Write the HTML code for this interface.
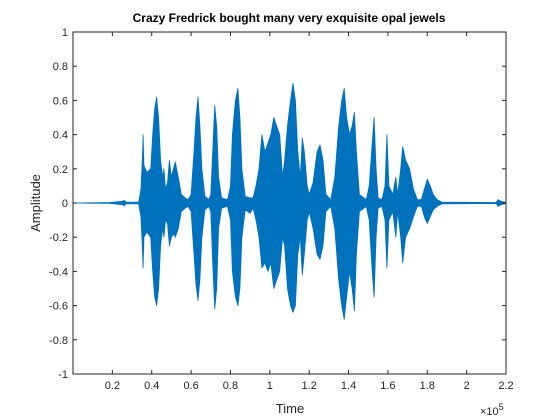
<!DOCTYPE html>
<html><head><meta charset="utf-8"><style>
body{margin:0;background:#fff;}
svg{display:block;font-family:"Liberation Sans",sans-serif;}
</style></head><body>
<svg id="chart" width="560" height="420">
<rect width="560" height="420" fill="#fff"/>
<text x="289" y="22" text-anchor="middle" font-size="12" font-weight="bold" fill="#000">Crazy Fredrick bought many very exquisite opal jewels</text>
<g id="plot"></g>
<text x="290" y="413" text-anchor="middle" font-size="13" fill="#262626">Time</text>
<text x="480" y="415" font-size="11" fill="#262626">×10<tspan dy="-5" font-size="9">5</tspan></text>
<text transform="translate(40,203) rotate(-90)" text-anchor="middle" font-size="13" fill="#262626">Amplitude</text>
</svg>
<script>
const times=[0,0.189,0.25,0.26,0.27,0.334,0.345,0.352,0.356,0.36,0.375,0.395,0.405,0.415,0.425,0.435,0.445,0.455,0.462,0.47,0.48,0.49,0.5,0.51,0.52,0.535,0.55,0.57,0.585,0.6,0.615,0.625,0.635,0.645,0.655,0.67,0.69,0.7,0.71,0.72,0.73,0.74,0.755,0.785,0.8,0.81,0.825,0.838,0.848,0.858,0.875,0.9,0.915,0.93,0.945,0.96,0.975,0.99,1.005,1.02,1.035,1.05,1.065,1.075,1.09,1.105,1.118,1.13,1.142,1.155,1.165,1.175,1.19,1.2,1.22,1.24,1.255,1.27,1.285,1.31,1.33,1.35,1.365,1.378,1.39,1.405,1.418,1.43,1.44,1.455,1.49,1.505,1.52,1.53,1.54,1.55,1.57,1.585,1.595,1.605,1.625,1.64,1.65,1.665,1.675,1.69,1.71,1.73,1.75,1.77,1.785,1.8,1.815,1.83,1.85,1.875,2.15,2.16,2.175,2.2];
const upper=[0,0.003,0.01,0.015,0.005,0.005,0.08,0.25,0.4,0.22,0.18,0.2,0.4,0.55,0.62,0.5,0.25,0.15,0.2,0.08,0.12,0.25,0.15,0.2,0.24,0.15,0.05,0.03,0.02,0.05,0.3,0.5,0.62,0.45,0.2,0.04,0.02,0.05,0.3,0.57,0.45,0.15,0.03,0.02,0.1,0.4,0.6,0.67,0.5,0.2,0.04,0.03,0.03,0.1,0.2,0.4,0.3,0.35,0.4,0.5,0.45,0.4,0.15,0.25,0.45,0.6,0.7,0.6,0.3,0.15,0.38,0.3,0.1,0.05,0.12,0.3,0.34,0.25,0.05,0.02,0.15,0.45,0.6,0.67,0.5,0.4,0.45,0.53,0.3,0.05,0.02,0.1,0.35,0.5,0.2,0.03,0.02,0.1,0.4,0.1,0.05,0.15,0.05,0.2,0.33,0.25,0.2,0.08,0.02,0.02,0.08,0.14,0.1,0.05,0.02,0.005,0.003,0.02,0.01,0.003];
const lower=[0,-0.003,-0.01,-0.015,-0.005,-0.005,-0.08,-0.25,-0.38,-0.2,-0.17,-0.2,-0.4,-0.55,-0.6,-0.5,-0.25,-0.15,-0.2,-0.1,-0.12,-0.25,-0.2,-0.18,-0.2,-0.15,-0.05,-0.03,-0.02,-0.05,-0.3,-0.48,-0.57,-0.45,-0.2,-0.04,-0.02,-0.05,-0.35,-0.62,-0.5,-0.15,-0.03,-0.02,-0.1,-0.4,-0.55,-0.6,-0.5,-0.2,-0.04,-0.06,-0.03,-0.1,-0.2,-0.38,-0.35,-0.4,-0.35,-0.5,-0.45,-0.4,-0.2,-0.25,-0.5,-0.6,-0.64,-0.6,-0.3,-0.2,-0.42,-0.3,-0.1,-0.05,-0.15,-0.3,-0.33,-0.25,-0.05,-0.02,-0.15,-0.45,-0.6,-0.68,-0.55,-0.4,-0.5,-0.63,-0.3,-0.05,-0.02,-0.1,-0.4,-0.55,-0.2,-0.03,-0.02,-0.1,-0.38,-0.1,-0.05,-0.2,-0.05,-0.2,-0.35,-0.2,-0.15,-0.08,-0.02,-0.02,-0.08,-0.12,-0.08,-0.04,-0.02,-0.005,-0.003,-0.02,-0.01,-0.003];
const xTicks=[0.2,0.4,0.6,0.8,1,1.2,1.4,1.6,1.8,2,2.2];
const xTickLabels=["0.2","0.4","0.6","0.8","1","1.2","1.4","1.6","1.8","2","2.2"];
const yTicks=[-1,-0.8,-0.6,-0.4,-0.2,0,0.2,0.4,0.6,0.8,1];
const yTickLabels=["-1","-0.8","-0.6","-0.4","-0.2","0","0.2","0.4","0.6","0.8","1"];

const L=73,R=506,T=32,B=374;
const xs=v=>L+(v/2.2)*(R-L);
const ys=v=>T+(1-v)/2*(B-T);
const NS="http://www.w3.org/2000/svg";
const g=document.getElementById('plot');
function mk(tag,attrs){const e=document.createElementNS(NS,tag);for(const k in attrs)e.setAttribute(k,attrs[k]);return e;}

let pts=[];
for(let i=0;i<times.length;i++)pts.push(xs(times[i]).toFixed(1)+','+ys(upper[i]).toFixed(1));
for(let i=times.length-1;i>=0;i--)pts.push(xs(times[i]).toFixed(1)+','+ys(lower[i]).toFixed(1));
const poly=mk('polygon',{points:pts.join(' '),fill:'#0072BD',stroke:'#0072BD','stroke-width':0.8,'stroke-linejoin':'round'});


g.appendChild(poly);

const box=mk('rect',{x:L,y:T,width:R-L,height:B-T,fill:'none',stroke:'#262626','stroke-width':1});


g.appendChild(box);

xTicks.forEach((v,i)=>{
  const x=xs(v);
  const t1=mk('line',{x1:x,x2:x,y1:B,y2:B-4,stroke:'#262626'});
  
  
  g.appendChild(t1);
  const t2=mk('line',{x1:x,x2:x,y1:T,y2:T+4,stroke:'#262626'});
  
  
  g.appendChild(t2);
  const tx=mk('text',{x:x,y:B+15,'text-anchor':'middle','font-size':11,fill:'#262626'});
  tx.textContent=xTickLabels[i];
  
  
  g.appendChild(tx);
});
yTicks.forEach((v,i)=>{
  const y=ys(v);
  const t1=mk('line',{x1:L,x2:L+4,y1:y,y2:y,stroke:'#262626'});
  
  
  g.appendChild(t1);
  const t2=mk('line',{x1:R,x2:R-4,y1:y,y2:y,stroke:'#262626'});
  
  
  g.appendChild(t2);
  const tx=mk('text',{x:L-5,y:y+4,'text-anchor':'end','font-size':11,fill:'#262626'});
  tx.textContent=yTickLabels[i];
  
  
  g.appendChild(tx);
});
</script>
</body></html>
